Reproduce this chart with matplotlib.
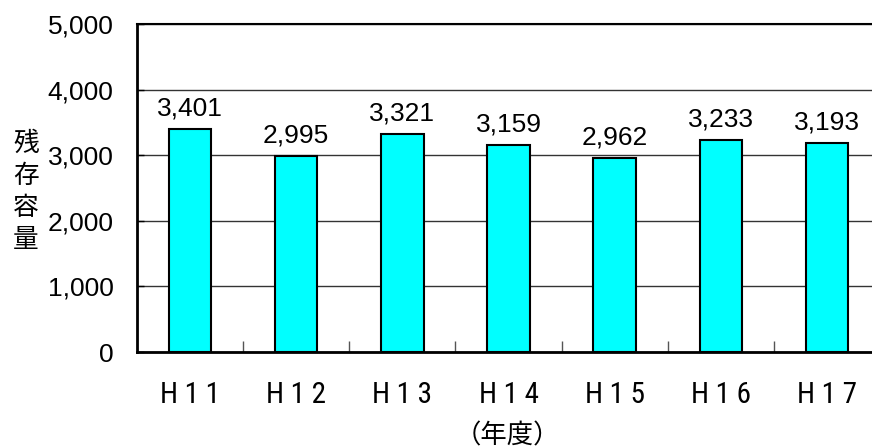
import matplotlib
matplotlib.use("Agg")
import matplotlib.pyplot as plt
from matplotlib import font_manager
from matplotlib.font_manager import FontProperties
from matplotlib.ticker import FuncFormatter, FixedLocator

categories = ["H11", "H12", "H13", "H14", "H15", "H16", "H17"]
tick_labels = ["H 1 1", "H 1 2", "H 1 3", "H 1 4", "H 1 5", "H 1 6", "H 1 7"]
values = [3401, 2995, 3321, 3159, 2962, 3233, 3193]
y_ticks = [0, 1000, 2000, 3000, 4000, 5000]
y_label = "残存容量"
x_label = "（年度）"

num_font = ["Liberation Sans", "DejaVu Sans"]
cjk_font = ["Noto Sans CJK JP", "DejaVu Sans"]

# look for a condensed / narrow sans face for the category labels
narrow_prop = None
cands = []
for f in font_manager.fontManager.ttflist:
    nm = f.name.lower()
    fn = f.fname.lower()
    st = f.stretch
    cond = ("narrow" in nm or "condensed" in nm or "narrow" in fn or "condensed" in fn
            or st in ("condensed", "semi-condensed", "extra-condensed", "ultra-condensed")
            or (isinstance(st, int) and st < 500))
    if cond and f.style == "normal" and f.weight in (400, "normal", "regular") and "mono" not in nm and "serif" not in nm.replace("sans", ""):
        score = 0
        if "liberation" in nm: score = 3
        elif "roboto" in nm: score = 2
        elif "dejavu" in nm: score = 1
        cands.append((score, f.fname))
if cands:
    cands.sort(reverse=True)
    narrow_prop = FontProperties(fname=cands[0][1], size=21)
    lbls = tick_labels
else:
    narrow_prop = FontProperties(family="Liberation Sans", size=20)
    lbls = [t.replace(" ", "\u2009") for t in tick_labels]

fig = plt.figure(figsize=(8.72, 4.48), dpi=100)
ax = fig.add_axes([137/872, 96/448, 743/872, 328/448])

x = list(range(len(categories)))
ax.bar(x, values, width=0.40, color="#00FFFF", edgecolor="black", linewidth=1.5, zorder=3)

ax.set_xlim(-0.5, len(categories) - 0.5)
ax.set_ylim(0, 5000)

ax.set_yticks(y_ticks)
ax.yaxis.set_major_formatter(FuncFormatter(lambda v, p: f"{int(v):,}"))
ax.tick_params(axis="y", direction="in", length=5, width=1, pad=17, labelsize=19)
for lab in ax.get_yticklabels():
    lab.set_fontfamily(num_font)

ax.grid(axis="y", color="#333333", linewidth=1, zorder=1)
ax.set_axisbelow(True)

ax.xaxis.set_major_locator(FixedLocator([i + 0.5 for i in range(len(categories) - 1)]))
ax.set_xticklabels([])
ax.tick_params(axis="x", which="major", direction="in", length=8, width=1, color="#555555")
ax.xaxis.set_minor_locator(FixedLocator(x))
ax.set_xticklabels(lbls, minor=True)
for lab in ax.get_xticklabels(minor=True):
    lab.set_fontproperties(narrow_prop)
ax.tick_params(axis="x", which="minor", length=0, pad=21)

for s in ["left", "bottom"]:
    ax.spines[s].set_linewidth(2)
ax.spines["top"].set_linewidth(1.5)
ax.spines["right"].set_linewidth(1.5)

for xi, v in zip(x, values):
    ax.annotate(f"{v:,}", (xi, v), xytext=(0, 9.5), textcoords="offset points",
                ha="center", va="baseline", fontsize=19, fontfamily=num_font)

fig.text(26/872, 1 - 192/448, "\n".join(y_label), ha="center", va="center",
         fontsize=18.5, fontfamily=cjk_font, linespacing=1.3)
fig.text(507/872, 1 - 436/448, x_label, ha="center", va="center",
         fontsize=19, fontfamily=cjk_font)

fig.savefig("out.png", dpi=100)
